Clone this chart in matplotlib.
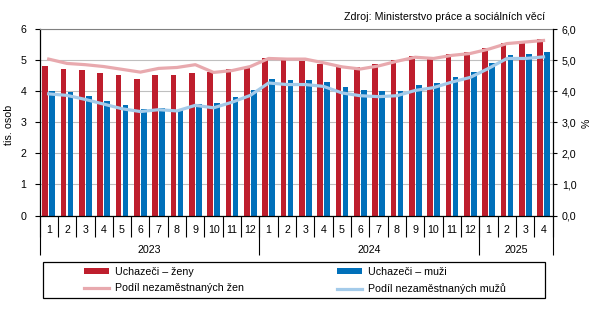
import numpy as np
import matplotlib.pyplot as plt
from matplotlib.patches import Rectangle
from matplotlib.ticker import FuncFormatter

plt.rcParams['font.family'] = ['Liberation Sans', 'DejaVu Sans']
plt.rcParams['font.size'] = 7.7

# data
months = [str(m) for m in range(1, 13)] * 2 + ['1', '2', '3', '4']
years = ['2023', '2024', '2025']
year_len = [12, 12, 4]

# uchazeci (tis. osob)
zeny = [4.81, 4.72, 4.68, 4.58, 4.52, 4.41, 4.52, 4.52, 4.58, 4.62, 4.71, 4.80,
        5.07, 5.00, 4.99, 4.88, 4.84, 4.78, 4.88, 5.01, 5.14, 5.10, 5.20, 5.26,
        5.39, 5.56, 5.62, 5.69]
muzi = [4.00, 3.97, 3.84, 3.68, 3.55, 3.42, 3.48, 3.44, 3.58, 3.61, 3.81, 4.06,
        4.39, 4.36, 4.36, 4.29, 4.13, 4.03, 4.00, 4.00, 4.19, 4.26, 4.45, 4.62,
        4.91, 5.17, 5.20, 5.26]

# podil nezamestnanych (%)
podil_zen = [5.04, 4.90, 4.86, 4.80, 4.71, 4.62, 4.74, 4.77, 4.86, 4.61, 4.67, 4.80,
             5.06, 5.04, 5.04, 4.92, 4.79, 4.72, 4.82, 4.97, 5.10, 5.06, 5.16, 5.22,
             5.36, 5.54, 5.59, 5.64]
podil_muzu = [3.92, 3.87, 3.74, 3.59, 3.44, 3.35, 3.41, 3.37, 3.55, 3.47, 3.65, 3.87,
              4.27, 4.22, 4.22, 4.16, 3.95, 3.86, 3.83, 3.86, 4.03, 4.12, 4.30, 4.45,
              4.74, 5.06, 5.06, 5.11]

red = '#BE1E2D'
blue = '#0070BA'
pink = '#E8A9AE'
lblue = '#A4CBEA'

x = np.arange(len(months))

fig = plt.figure(figsize=(5.97, 3.10), dpi=100)
ax = fig.add_axes([0.0662, 0.3048, 0.8596, 0.6007])
ax2 = ax.twinx()

w = 0.31
b1 = ax.bar(x - 0.19, zeny, w, color=red, label='Uchazeči – ženy', zorder=2)
b2 = ax.bar(x + 0.19, muzi, w, color=blue, label='Uchazeči – muži', zorder=2)
l1, = ax2.plot(x, podil_zen, color=pink, lw=2.3, solid_joinstyle='round',
               label='Podíl nezaměstnaných žen')
l2, = ax2.plot(x, podil_muzu, color=lblue, lw=2.3, solid_joinstyle='round',
               label='Podíl nezaměstnaných mužů')

ax.set_xlim(-0.5, len(months) - 0.5)
ax.set_ylim(0, 6)
ax2.set_ylim(0, 6)
ax.set_yticks(range(0, 7))
ax2.set_yticks(range(0, 7))
ax2.yaxis.set_major_formatter(FuncFormatter(lambda v, p: f'{v:.1f}'.replace('.', ',')))

ax.set_axisbelow(True)
ax.yaxis.grid(True, color='#BFBFBF', lw=0.8)

for a in (ax, ax2):
    a.spines['top'].set_visible(False)
ax.spines['right'].set_visible(False)
ax2.spines['left'].set_visible(False)
ax2.spines['bottom'].set_visible(False)
ax.spines['top'].set_visible(True)
ax.spines['top'].set_color('#808080')
for s in ('left', 'bottom'):
    ax.spines[s].set_color('black')
    ax.spines[s].set_linewidth(0.9)
ax2.spines['right'].set_color('black')
ax2.spines['right'].set_linewidth(0.9)

ax.tick_params(axis='y', length=3.5, width=0.8, pad=6)
ax2.tick_params(axis='y', length=3, width=0.8, pad=3.5)

# month labels + separators
ax.set_xticks(x)
ax.set_xticklabels(months)
ax.tick_params(axis='x', which='major', length=0, pad=6.5)
ax.set_xticks(np.arange(-0.5, len(months)), minor=True)
ax.tick_params(axis='x', which='minor', length=15, width=0.8, color='black')

# year labels + separators
edges = np.concatenate([[0], np.cumsum(year_len)]) - 0.5
centers = (edges[:-1] + edges[1:]) / 2
sec = ax.secondary_xaxis('bottom')
sec.spines['bottom'].set_visible(False)
sec.set_xticks(edges)
sec.set_xticklabels([''] * len(edges))
sec.tick_params(axis='x', which='major', length=28, width=0.8)
sec.set_xticks(centers, minor=True)
sec.set_xticklabels(years, minor=True)
sec.tick_params(axis='x', which='minor', length=0, pad=21)

fig.text(9.5 / 597, 1 - 125 / 310, 'tis. osob', rotation=90, ha='center', va='center')
fig.text(587 / 597, 1 - 123 / 310, '%', rotation=90, ha='center', va='center')
fig.text(545 / 597, 1 - 16.7 / 310, 'Zdroj: Ministerstvo práce a sociálních věcí',
         ha='right', va='center')

fig.patches.append(Rectangle((43.3 / 597, 1 - 298.3 / 310), 502 / 597, 36.6 / 310,
                             transform=fig.transFigure, fill=False, lw=0.9,
                             edgecolor='black'))
fig.legend([b1, l1, b2, l2],
           [b1.get_label(), l1.get_label(), b2.get_label(), l2.get_label()],
           ncol=2, loc='center', bbox_to_anchor=(295 / 597, 1 - 280.5 / 310),
           frameon=False, handlelength=2.34, handleheight=0.5, handletextpad=0.56,
           columnspacing=8.7, labelspacing=0.6, borderpad=0)

fig.savefig('out.png', dpi=100)
